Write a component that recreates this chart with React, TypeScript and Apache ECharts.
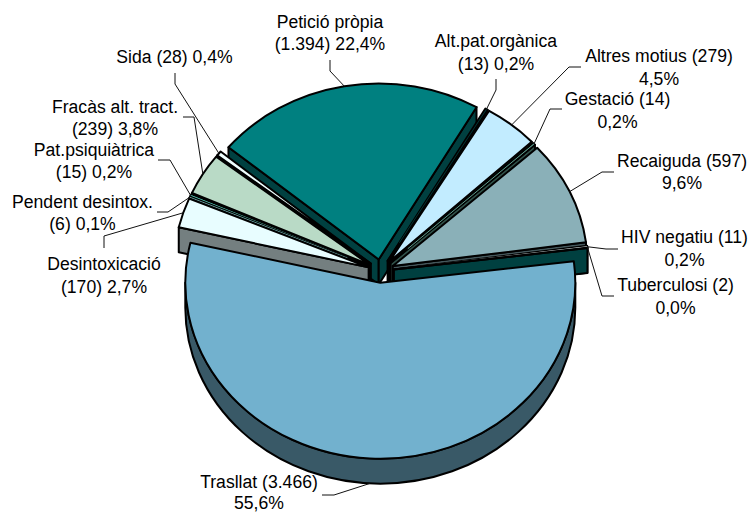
import React, { useEffect, useRef } from "react";
import * as echarts from "echarts";

const categories = ["Trasllat", "Desintoxicació", "Pendent desintox.", "Pat.psiquiàtrica", "Fracàs alt. tract.", "Sida", "Petició pròpia", "Alt.pat.orgànica", "Altres motius", "Gestació", "Recaiguda", "HIV negatiu", "Tuberculosi"];
const values = [3466, 170, 6, 15, 239, 28, 1394, 13, 279, 14, 597, 11, 2];
const labels = [
  "Trasllat (3.466)\n55,6%",
  "Desintoxicació\n(170) 2,7%",
  "Pendent desintox.\n(6) 0,1%",
  "Pat.psiquiàtrica\n(15) 0,2%",
  "Fracàs alt. tract.\n(239) 3,8%",
  "Sida (28) 0,4%",
  "Petició pròpia\n(1.394) 22,4%",
  "Alt.pat.orgànica\n(13) 0,2%",
  "Altres motius (279)\n4,5%",
  "Gestació (14)\n0,2%",
  "Recaiguda (597)\n9,6%",
  "HIV negatiu (11)\n0,2%",
  "Tuberculosi (2)\n0,0%",
];
const colors = ["#72B1CE", "#E8FDFF", "#669999", "#4FB5A5", "#B9DAC6", "#F0FFFF", "#008080", "#003333", "#C2ECFF", "#5F9F8F", "#8AB0B8", "#E8F4F4", "#008080"];
// label centre and the leader's fixed points (from the text towards the slice)
const labelCentres = [[259, 492.5], [104, 275.5], [82.5, 213], [94, 161], [115, 118], [174.5, 57], [330, 33], [496, 52.5], [659, 67.5], [617.5, 110.5], [682, 172], [684.5, 248.5], [675.5, 296.5]];
const leaderPoints = [
  [[322, 495], [334, 495]],
  [[104, 248], [104, 236]],
  [[157, 212], [168, 212]],
  [[158, 160], [170, 160]],
  [[183, 117], [194, 117]],
  [[175, 73], [175, 84]],
  [[330, 60], [330, 71]],
  [[496, 79], [496, 90]],
  [[581, 67], [569, 67]],
  [[562, 109], [550, 109]],
  [[614, 172], [602, 172]],
  [[618, 249], [606, 249]],
  [[614, 296], [602, 296]],
];

const CX = 381, CY = 271, RX = 195, RY = 176, DEPTH = 25, EXPLODE = 13, START = 83;
const total = values.reduce((a, b) => a + b, 0);
const rad = (d: number) => (d * Math.PI) / 180;

const slices = (() => {
  let a = START;
  return values.map((v, i) => {
    const sweep = (v / total) * 360;
    const s = { index: i, start: a, end: a + sweep, mid: a + sweep / 2 };
    a += sweep;
    return s;
  });
})();
// back to front
const paintOrder = slices
  .slice()
  .sort((p, q) => {
    const d = (m: number) => { const x = ((m % 360) + 360) % 360; return Math.min(x, 360 - x); };
    return d(p.mid) - d(q.mid);
  })
  .map((s) => s.index);

function darken(hex: string) {
  const n = parseInt(hex.slice(1), 16);
  const f = (c: number) => Math.round(c * 0.5);
  return `rgb(${f((n >> 16) & 255)},${f((n >> 8) & 255)},${f(n & 255)})`;
}
function apexOf(mid: number) {
  return [CX + EXPLODE * Math.sin(rad(mid)), CY - (EXPLODE * RY / RX) * Math.cos(rad(mid))];
}
function rim(ax: number, ay: number, t: number) {
  return [ax + RX * Math.sin(rad(t)), ay - RY * Math.cos(rad(t))];
}
const f1 = (n: number) => n.toFixed(2);

function renderSlice(params: any, api: any) {
  const idx = api.value(0) as number;
  const s = slices[idx];
  const [ax, ay] = apexOf(s.mid);
  const top = colors[idx];
  const side = darken(top);
  const children: any[] = [];
  const style = (fill: string) => ({ fill, stroke: "#000", lineWidth: 2, lineJoin: "round" });
  const wall = (t: number) => {
    const p = rim(ax, ay, t);
    const d = `M${f1(ax)} ${f1(ay)}L${f1(p[0])} ${f1(p[1])}L${f1(p[0])} ${f1(p[1] + DEPTH)}L${f1(ax)} ${f1(ay + DEPTH)}Z`;
    children.push({ type: "path", shape: { pathData: d }, style: style(side) });
  };
  // radial walls whose face turns towards the viewer
  if (-Math.sin(rad(s.start)) > 0) wall(s.start);
  if (Math.sin(rad(s.end)) > 0) wall(s.end);
  // outer curved wall
  const lo = Math.max(s.start, 90), hi = Math.min(s.end, 270);
  if (hi > lo) {
    const a = rim(ax, ay, lo), b = rim(ax, ay, hi);
    const d = `M${f1(a[0])} ${f1(a[1])}A${RX} ${RY} 0 ${hi - lo > 180 ? 1 : 0} 1 ${f1(b[0])} ${f1(b[1])}L${f1(b[0])} ${f1(b[1] + DEPTH)}A${RX} ${RY} 0 ${hi - lo > 180 ? 1 : 0} 0 ${f1(a[0])} ${f1(a[1] + DEPTH)}Z`;
    children.push({ type: "path", shape: { pathData: d }, style: style(side) });
  }
  // top face
  const a = rim(ax, ay, s.start), b = rim(ax, ay, s.end);
  const d = `M${f1(ax)} ${f1(ay)}L${f1(a[0])} ${f1(a[1])}A${RX} ${RY} 0 ${s.end - s.start > 180 ? 1 : 0} 1 ${f1(b[0])} ${f1(b[1])}Z`;
  children.push({ type: "path", shape: { pathData: d }, style: style(top) });
  // a very narrow slice still shows its colour between its two outlines
  if (s.end - s.start < 1.2 && s.end - s.start > 0.2) {
    const m = rim(ax, ay, s.mid);
    children.push({ type: "line", shape: { x1: ax + (m[0] - ax) * 0.12, y1: ay + (m[1] - ay) * 0.12, x2: m[0], y2: m[1] }, style: { stroke: top, lineWidth: 1 } });
  }
  return { type: "group", children };
}

function renderLabel(params: any, api: any) {
  const idx = api.value(0) as number;
  const s = slices[idx];
  const [ax, ay] = apexOf(s.mid);
  let end: number[];
  if (idx === 12) {
    const h = apexOf(slices[11].mid);
    end = rim(h[0], h[1], slices[11].mid);
  } else {
    end = rim(ax, ay, s.mid);
    if (idx === 0) end = [end[0], end[1] + DEPTH];
  }
  const [cx, cy] = labelCentres[idx];
  return {
    type: "group",
    children: [
      { type: "polyline", shape: { points: [...leaderPoints[idx], end] }, style: { fill: "none", stroke: "#111", lineWidth: 1 } },
      {
        type: "text",
        style: { text: labels[idx], x: cx, y: cy, align: "center", verticalAlign: "middle", fill: "#000", font: "17.6px 'Liberation Sans', Arial, sans-serif", lineHeight: idx === 0 ? 21 : 22.7 },
      },
    ],
  };
}

export default function App() {
  const ref = useRef<HTMLDivElement>(null);
  useEffect(() => {
    const chart = echarts.init(ref.current!, undefined, { renderer: "svg" });
    chart.setOption({
      animation: false,
      backgroundColor: "#fff",
      series: [
        {
          type: "custom",
          name: "Slices",
          coordinateSystem: "none",
          silent: true,
          renderItem: renderSlice,
          data: paintOrder.map((i) => ({ name: categories[i], value: [i, values[i]] })),
          encode: { tooltip: 1 },
          z: 2,
        },
        {
          type: "custom",
          name: "Labels",
          coordinateSystem: "none",
          silent: true,
          renderItem: renderLabel,
          data: categories.map((c, i) => ({ name: c, value: [i, values[i]] })),
          z: 3,
        },
      ],
    });
    return () => chart.dispose();
  }, []);
  return <div ref={ref} style={{ position: "fixed", left: 0, top: 0, width: 751, height: 513 }} />;
}
